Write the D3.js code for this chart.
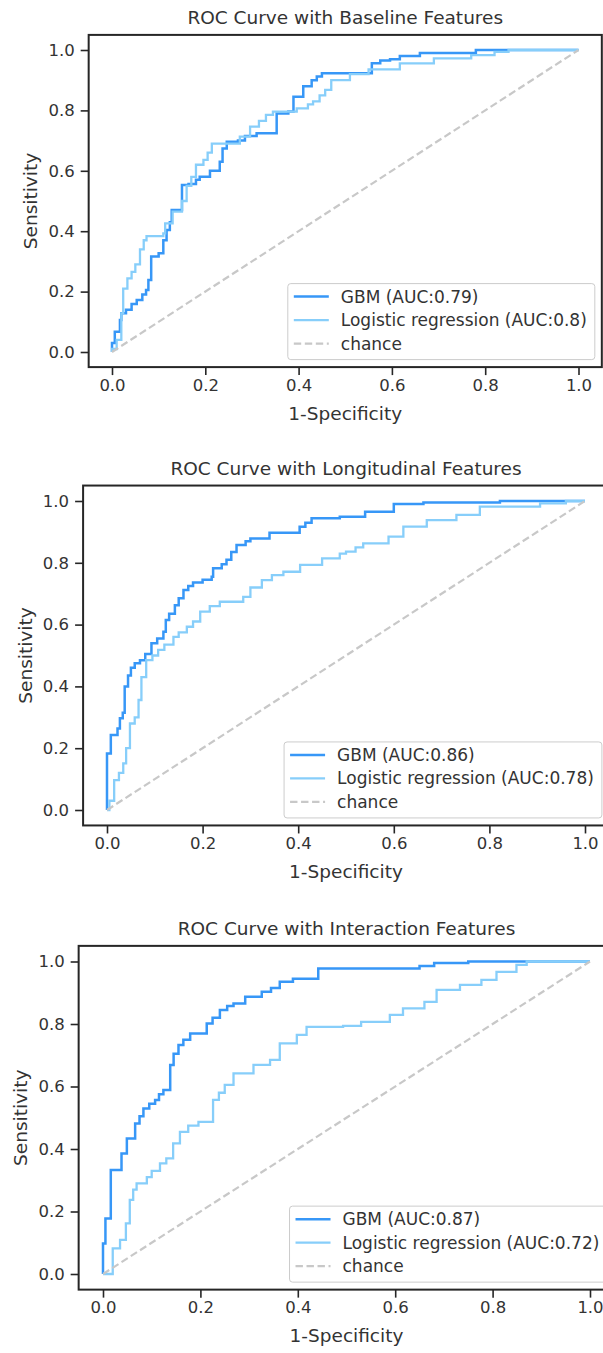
<!DOCTYPE html>
<html>
<head>
<meta charset="utf-8">
<script src="https://cdn.jsdelivr.net/npm/d3@7"></script>
<style>
  html, body { margin: 0; padding: 0; background: #fff; }
  svg { display: block; font-family: "DejaVu Sans", sans-serif; }
</style>
</head>
<body>
<div id="chart"></div>
<script>
// ---- data ----
const titles = [
    "ROC Curve with Baseline Features",
    "ROC Curve with Longitudinal Features",
    "ROC Curve with Interaction Features"
];
const gbmLabels = ["GBM (AUC:0.79)", "GBM (AUC:0.86)", "GBM (AUC:0.87)"];
const lrLabels = [
    "Logistic regression (AUC:0.8)",
    "Logistic regression (AUC:0.78)",
    "Logistic regression (AUC:0.72)"
];
const tickValues = [0, 0.2, 0.4, 0.6, 0.8, 1.0];
const chanceFpr = [0, 1];
const chanceTpr = [0, 1];

// baseline features
const baselineGbmFpr = [0, 0, 0.006, 0.017, 0.02, 0.03, 0.042, 0.053, 0.065, 0.073, 0.078, 0.084, 0.10, 0.11, 0.117, 0.124, 0.128, 0.15, 0.164, 0.18, 0.188, 0.21, 0.231, 0.237, 0.246, 0.27, 0.285, 0.31, 0.353, 0.378, 0.389, 0.41, 0.428, 0.439, 0.45, 0.557, 0.575, 0.596, 0.617, 0.66, 0.78, 1];
const baselineGbmTpr = [0, 0.03, 0.067, 0.106, 0.128, 0.14, 0.159, 0.172, 0.19, 0.205, 0.238, 0.316, 0.327, 0.37, 0.404, 0.43, 0.47, 0.553, 0.556, 0.57, 0.58, 0.60, 0.63, 0.674, 0.696, 0.70, 0.715, 0.724, 0.79, 0.796, 0.845, 0.88, 0.90, 0.912, 0.923, 0.956, 0.965, 0.969, 0.98, 0.99, 1.0, 1];
const baselineLrFpr = [0, 0, 0.01, 0.02, 0.024, 0.033, 0.042, 0.05, 0.06, 0.068, 0.074, 0.11, 0.114, 0.13, 0.15, 0.16, 0.17, 0.18, 0.196, 0.205, 0.214, 0.274, 0.296, 0.315, 0.33, 0.345, 0.396, 0.42, 0.431, 0.445, 0.457, 0.47, 0.51, 0.55, 0.617, 0.69, 0.77, 0.82, 0.85, 1];
const baselineLrTpr = [0, 0.01, 0.04, 0.128, 0.21, 0.244, 0.265, 0.29, 0.34, 0.37, 0.384, 0.393, 0.426, 0.465, 0.50, 0.55, 0.58, 0.62, 0.636, 0.66, 0.69, 0.713, 0.746, 0.765, 0.785, 0.796, 0.807, 0.82, 0.83, 0.85, 0.868, 0.90, 0.92, 0.936, 0.956, 0.972, 0.983, 0.994, 1.0, 1];

// longitudinal features
const longGbmFpr = [0, 0, 0.008, 0.022, 0.027, 0.033, 0.037, 0.044, 0.05, 0.058, 0.069, 0.08, 0.093, 0.105, 0.118, 0.123, 0.13, 0.142, 0.15, 0.16, 0.17, 0.18, 0.2, 0.219, 0.222, 0.24, 0.25, 0.26, 0.271, 0.29, 0.3, 0.34, 0.403, 0.415, 0.428, 0.487, 0.54, 0.6, 0.662, 0.822, 1];
const longGbmTpr = [0, 0.183, 0.243, 0.264, 0.297, 0.315, 0.40, 0.435, 0.46, 0.475, 0.485, 0.505, 0.54, 0.555, 0.577, 0.615, 0.635, 0.663, 0.685, 0.712, 0.725, 0.736, 0.745, 0.755, 0.782, 0.795, 0.81, 0.835, 0.858, 0.87, 0.879, 0.897, 0.917, 0.93, 0.944, 0.949, 0.965, 0.99, 0.995, 1.0, 1];
const longLrFpr = [0, 0.005, 0.015, 0.025, 0.034, 0.04, 0.048, 0.058, 0.066, 0.072, 0.082, 0.095, 0.107, 0.12, 0.139, 0.15, 0.167, 0.18, 0.195, 0.215, 0.236, 0.285, 0.3, 0.324, 0.345, 0.369, 0.404, 0.45, 0.487, 0.5, 0.52, 0.536, 0.589, 0.62, 0.669, 0.731, 0.78, 0.906, 0.96, 1];
const longLrTpr = [0, 0.03, 0.097, 0.12, 0.151, 0.2, 0.28, 0.3, 0.356, 0.43, 0.485, 0.5, 0.518, 0.535, 0.56, 0.575, 0.593, 0.61, 0.642, 0.66, 0.674, 0.69, 0.72, 0.744, 0.76, 0.771, 0.793, 0.814, 0.83, 0.836, 0.85, 0.863, 0.885, 0.917, 0.938, 0.955, 0.982, 0.992, 1.0, 1];

// interaction features
const interGbmFpr = [0, 0, 0.005, 0.016, 0.038, 0.049, 0.066, 0.075, 0.083, 0.095, 0.107, 0.115, 0.124, 0.138, 0.145, 0.155, 0.165, 0.179, 0.213, 0.225, 0.24, 0.255, 0.268, 0.292, 0.326, 0.345, 0.363, 0.39, 0.442, 0.65, 0.68, 0.75, 1];
const interGbmTpr = [0, 0.098, 0.178, 0.333, 0.386, 0.434, 0.482, 0.505, 0.53, 0.545, 0.557, 0.575, 0.589, 0.669, 0.705, 0.733, 0.75, 0.77, 0.802, 0.82, 0.845, 0.858, 0.866, 0.887, 0.903, 0.915, 0.935, 0.945, 0.978, 0.986, 0.995, 1.0, 1];
const interLrFpr = [0, 0.02, 0.035, 0.047, 0.055, 0.062, 0.069, 0.09, 0.1, 0.117, 0.13, 0.144, 0.158, 0.175, 0.196, 0.226, 0.238, 0.25, 0.268, 0.309, 0.343, 0.363, 0.398, 0.418, 0.493, 0.53, 0.589, 0.616, 0.66, 0.685, 0.733, 0.777, 0.808, 0.849, 0.87, 1];
const interLrTpr = [0, 0.082, 0.109, 0.162, 0.237, 0.27, 0.29, 0.31, 0.33, 0.354, 0.37, 0.418, 0.455, 0.475, 0.487, 0.557, 0.58, 0.605, 0.642, 0.669, 0.685, 0.738, 0.765, 0.791, 0.794, 0.807, 0.829, 0.85, 0.871, 0.909, 0.925, 0.941, 0.967, 0.989, 1.0, 1];

const gbmFpr = [baselineGbmFpr, longGbmFpr, interGbmFpr];
const gbmTpr = [baselineGbmTpr, longGbmTpr, interGbmTpr];
const lrFpr = [baselineLrFpr, longLrFpr, interLrFpr];
const lrTpr = [baselineLrTpr, longLrTpr, interLrTpr];

// pixel position of value 0 and 1 on each panel's axes
const panelLayout = [
    { x0: 112, x1: 578.5, y0: 352, y1: 50 },
    { x0: 107, x1: 585, y0: 810, y1: 501 },
    { x0: 103, x1: 590, y0: 1274, y1: 961.5 }
];

const W = 603, H = 1353;
const frameColor = "#262626";
const textColor = "#333";
const gbmColor = "#3797f7";
const lrColor = "#87cefa";
const chanceColor = "#c8c8c8";

const svg = d3.select("#chart").append("svg")
    .attr("width", W)
    .attr("height", H);

svg.append("rect").attr("width", W).attr("height", H).attr("fill", "#fff");

const zip = (xs, ys) => xs.map((x, i) => [x, ys[i]]);

panelLayout.forEach((p, i) => {
    const x = d3.scaleLinear().domain([0, 1]).range([p.x0, p.x1]);
    const y = d3.scaleLinear().domain([0, 1]).range([p.y0, p.y1]);
    const left = x(-0.05), right = x(1.05), top = y(1.05), bottom = y(-0.05);

    const g = svg.append("g");

    const clipId = "clip-" + i;
    g.append("clipPath").attr("id", clipId)
        .append("rect")
        .attr("x", left).attr("y", top)
        .attr("width", right - left).attr("height", bottom - top);

    const plot = g.append("g").attr("clip-path", `url(#${clipId})`);

    const line = d3.line()
        .x(d => x(d[0]))
        .y(d => y(d[1]))
        .curve(d3.curveStepAfter);

    plot.append("path")
        .datum(zip(gbmFpr[i], gbmTpr[i]))
        .attr("d", line)
        .attr("fill", "none")
        .attr("stroke", gbmColor)
        .attr("stroke-width", 2.5);

    plot.append("path")
        .datum(zip(lrFpr[i], lrTpr[i]))
        .attr("d", line)
        .attr("fill", "none")
        .attr("stroke", lrColor)
        .attr("stroke-width", 2.3);

    plot.append("path")
        .datum(zip(chanceFpr, chanceTpr))
        .attr("d", d3.line().x(d => x(d[0])).y(d => y(d[1])))
        .attr("fill", "none")
        .attr("stroke", chanceColor)
        .attr("stroke-width", 2.2)
        .attr("stroke-dasharray", "7.4,3.6");

    // axes
    const xAxis = g.append("g")
        .attr("transform", `translate(0,${bottom})`)
        .call(d3.axisBottom(x).tickValues(tickValues).tickSize(8).tickPadding(4).tickFormat(d3.format(".1f")));
    const yAxis = g.append("g")
        .attr("transform", `translate(${left},0)`)
        .call(d3.axisLeft(y).tickValues(tickValues).tickSize(8).tickPadding(6).tickFormat(d3.format(".1f")));

    [xAxis, yAxis].forEach(a => {
        a.select(".domain").remove();
        a.selectAll(".tick line").attr("stroke", frameColor).attr("stroke-width", 1.6);
        a.selectAll(".tick text")
            .attr("fill", textColor)
            .attr("font-size", 16.5)
            .attr("font-family", "DejaVu Sans");
    });

    // legend (lower right)
    const leg = g.append("g");
    const fs = 17;
    const rowGap = 23.5;
    const items = [
        { label: gbmLabels[i], color: gbmColor, width: 2.5, dash: null },
        { label: lrLabels[i], color: lrColor, width: 2.3, dash: null },
        { label: "chance", color: chanceColor, width: 2.2, dash: "7.4,3.6" }
    ];
    const texts = leg.selectAll("text").data(items).join("text")
        .attr("font-size", fs)
        .attr("fill", textColor)
        .attr("dominant-baseline", "central")
        .text(d => d.label);
    const maxW = d3.max(texts.nodes(), n => n.getComputedTextLength());
    const boxW = 53 + maxW + 8;
    const boxH = 76;
    const boxRight = right - 7;
    const boxLeft = boxRight - boxW;
    const boxBottom = bottom - 7.5;
    const boxTop = boxBottom - boxH;

    leg.insert("rect", "text")
        .attr("x", boxLeft).attr("y", boxTop)
        .attr("width", boxW).attr("height", boxH)
        .attr("rx", 3)
        .attr("fill", "#fff").attr("fill-opacity", 0.8)
        .attr("stroke", "#cccccc").attr("stroke-width", 1);

    texts.attr("x", boxLeft + 53)
        .attr("y", (d, k) => boxTop + 13 + k * rowGap);

    leg.selectAll("line").data(items).join("line")
        .attr("x1", boxLeft + 6).attr("x2", boxLeft + 41)
        .attr("y1", (d, k) => boxTop + 13 + k * rowGap)
        .attr("y2", (d, k) => boxTop + 13 + k * rowGap)
        .attr("stroke", d => d.color)
        .attr("stroke-width", d => d.width)
        .attr("stroke-dasharray", d => d.dash);

    // frame
    g.append("rect")
        .attr("x", left).attr("y", top)
        .attr("width", right - left).attr("height", bottom - top)
        .attr("fill", "none")
        .attr("stroke", frameColor)
        .attr("stroke-width", 2);

    const midX = (left + right) / 2;
    g.append("text")
        .attr("x", midX).attr("y", top - 17)
        .attr("text-anchor", "middle")
        .attr("dominant-baseline", "central")
        .attr("font-size", 18.5)
        .attr("fill", textColor)
        .text(titles[i]);

    g.append("text")
        .attr("x", midX).attr("y", bottom + 46)
        .attr("text-anchor", "middle")
        .attr("dominant-baseline", "central")
        .attr("font-size", 18.5)
        .attr("fill", textColor)
        .text("1-Specificity");

    g.append("text")
        .attr("transform", `translate(${left - 58},${(top + bottom) / 2}) rotate(-90)`)
        .attr("text-anchor", "middle")
        .attr("dominant-baseline", "central")
        .attr("font-size", 18.5)
        .attr("fill", textColor)
        .text("Sensitivity");
});
</script>
</body>
</html>
